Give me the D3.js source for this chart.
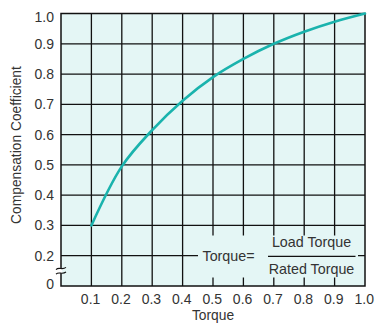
<!DOCTYPE html>
<html><head><meta charset="utf-8">
<script src="https://cdn.jsdelivr.net/npm/d3@7"></script>
<style>html,body{margin:0;padding:0;background:#fff;}svg{display:block;font-family:"Liberation Sans",Arial,Helvetica,sans-serif;}</style>
</head><body>
<svg id="c" width="375" height="324"></svg>
<script>
// Data
const torque = [0.1, 0.2, 0.3, 0.4, 0.5, 0.6, 0.7, 0.8, 0.9, 1.0];
const coefficient = [0.30, 0.495, 0.615, 0.712, 0.79, 0.85, 0.90, 0.94, 0.973, 1.0];
const xTickValues = [0.1, 0.2, 0.3, 0.4, 0.5, 0.6, 0.7, 0.8, 0.9, 1.0];
const xTickLabels = ["0.1", "0.2", "0.3", "0.4", "0.5", "0.6", "0.7", "0.8", "0.9", "1.0"];
// bottom of the broken axis (0.1 position) is labelled "0"
const yTickValues = [0.1, 0.2, 0.3, 0.4, 0.5, 0.6, 0.7, 0.8, 0.9, 1.0];
const yTickLabels = ["0", "0.2", "0.3", "0.4", "0.5", "0.6", "0.7", "0.8", "0.9", "1.0"];
const xTitle = "Torque";
const yTitle = "Compensation Coefficient";

const svg = d3.select("#c");
const L = 61, R = 365, T = 13.5, B = 286;
const x = d3.scaleLinear().domain([0, 1]).range([L, R]);
const y = d3.scaleLinear().domain([0.1, 1.0]).range([B, T]);
const bg = "#e4f6f5", ink = "#111", txt = "#333";

svg.append("rect").attr("x", L).attr("y", T).attr("width", R - L).attr("height", B - T).attr("fill", bg);

const grid = svg.append("g").attr("stroke", ink).attr("stroke-width", 1.3);
grid.selectAll("line.v").data(xTickValues.slice(0, -1)).join("line")
  .attr("x1", d => x(d)).attr("x2", d => x(d)).attr("y1", T).attr("y2", B);
grid.selectAll("line.h").data(yTickValues.slice(1, -1)).join("line")
  .attr("x1", L).attr("x2", R).attr("y1", d => y(d)).attr("y2", d => y(d));

// formula box
const bx0 = 198, bx1 = 358, by0 = 235.5, by1 = 277.5;
svg.append("rect").attr("x", bx0).attr("y", by0).attr("width", bx1 - bx0).attr("height", by1 - by0).attr("fill", bg);
const fs = 14.3;
svg.append("text").attr("x", 202.5).attr("y", y(0.2)).attr("dy", "0.36em").attr("font-size", fs).attr("fill", txt).text("Torque=");
svg.append("line").attr("x1", 268).attr("x2", 355.5).attr("y1", y(0.2) + 0.7).attr("y2", y(0.2) + 0.7).attr("stroke", ink).attr("stroke-width", 1.4);
svg.append("text").attr("x", 311.5).attr("y", y(0.2) - 8.5).attr("text-anchor", "middle").attr("font-size", fs).attr("fill", txt).text("Load Torque");
svg.append("text").attr("x", 311.5).attr("y", y(0.2) + 18.5).attr("text-anchor", "middle").attr("font-size", fs).attr("fill", txt).text("Rated Torque");

// border
svg.append("rect").attr("x", L).attr("y", T).attr("width", R - L).attr("height", B - T)
  .attr("fill", "none").attr("stroke", ink).attr("stroke-width", 1.5);

// axis break
const yb = (y(0.1) + y(0.2)) / 2;
svg.append("rect").attr("x", L - 2).attr("y", yb - 2.5).attr("width", 3.2).attr("height", 5).attr("fill", "#fff");
[-2.3, 2.3].forEach(o => {
  const yy = yb + o;
  svg.append("path")
    .attr("d", `M${L-5},${yy+1} C${L-2},${yy-2} ${L+1},${yy+2} ${L+5},${yy-1.2}`)
    .attr("fill", "none").attr("stroke", ink).attr("stroke-width", 1.1);
});

// curve
const line = d3.line().x((d, i) => x(torque[i])).y(d => y(d)).curve(d3.curveCatmullRom.alpha(0.5));
svg.append("path").datum(coefficient).attr("d", line)
  .attr("fill", "none").attr("stroke", "#1ab3ad").attr("stroke-width", 2.6).attr("stroke-linecap", "round");

// tick labels
const tfs = 14;
svg.append("g").selectAll("text").data(yTickValues).join("text")
  .attr("x", 54).attr("y", (d, i) => y(d) + (i === 0 ? -2.5 : i === yTickValues.length - 1 ? 3 : 0))
  .attr("dy", "0.36em").attr("text-anchor", "end").attr("font-size", tfs).attr("fill", txt)
  .text((d, i) => yTickLabels[i]);
svg.append("g").selectAll("text").data(xTickValues).join("text")
  .attr("x", d => x(d) - 0.8).attr("y", 303.5).attr("text-anchor", "middle").attr("font-size", tfs).attr("fill", txt)
  .text((d, i) => xTickLabels[i]);

svg.append("text").attr("x", x(0.5)).attr("y", 319.5).attr("text-anchor", "middle").attr("font-size", 13.8).attr("fill", txt).text(xTitle);
svg.append("text").attr("transform", `translate(20.5,145) rotate(-90)`).attr("text-anchor", "middle")
  .attr("font-size", 13.8).attr("fill", txt).text(yTitle);
</script>
</body></html>
